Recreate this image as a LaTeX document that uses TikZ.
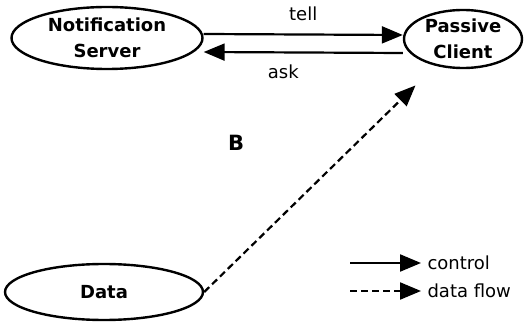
\documentclass[tikz,border=0pt]{standalone}
\usepackage{fontspec}
\setmainfont{DejaVu Sans}
\usetikzlibrary{arrows.meta,shapes.geometric}

\begin{document}
\begin{tikzpicture}[x=1pt, y=1pt,
    every node/.style={font=\fontsize{18}{26}\selectfont\bfseries, align=center},
    lbl/.style={font=\fontsize{18}{20}\selectfont},
    agent/.style={draw, ellipse, line width=2.4pt, inner sep=0pt},
    ctrl/.style={-{Triangle[length=21pt,width=17pt]}, line width=2.2pt},
    flow/.style={ctrl, dashed, dash pattern=on 7pt off 4pt}]
    \useasboundingbox (0,0) rectangle (524,321);
    % Nodes
    \node[agent, minimum width=191pt, minimum height=62pt] (server) at (107,283) {Notification\\Server};
    \node[agent, minimum width=118pt, minimum height=58pt] (client) at (463,282) {Passive\\Client};
    \node[agent, minimum width=198pt, minimum height=56pt] (data) at (104,29) {Data};
    \node[font=\fontsize{21}{24}\selectfont\bfseries] (b) at (236,178) {B};

    % Paths
    \draw[ctrl] ([yshift=4pt]server.east) -- node[lbl, above=9pt] {tell} ([yshift=4pt]client.west);
    \draw[ctrl] ([yshift=-14pt]client.west) -- node[lbl, below=8pt, xshift=-20pt] {ask} ([yshift=-14pt]server.east);
    \draw[flow, shorten >=28pt] (data.east) -- (client);

    % Legend
    \node[lbl, anchor=west] (lctrl) at (424,58) {control};
    \node[lbl, anchor=west] (lflow) at (424,30) {data flow};
    \coordinate (ctrlstart) at (350,58);
    \coordinate (flowstart) at (350,30);
    \draw[ctrl, shorten >=3pt] (ctrlstart) -- (lctrl.west);
    \draw[flow, shorten >=3pt] (flowstart) -- (lflow.west);
\end{tikzpicture}
\end{document}
